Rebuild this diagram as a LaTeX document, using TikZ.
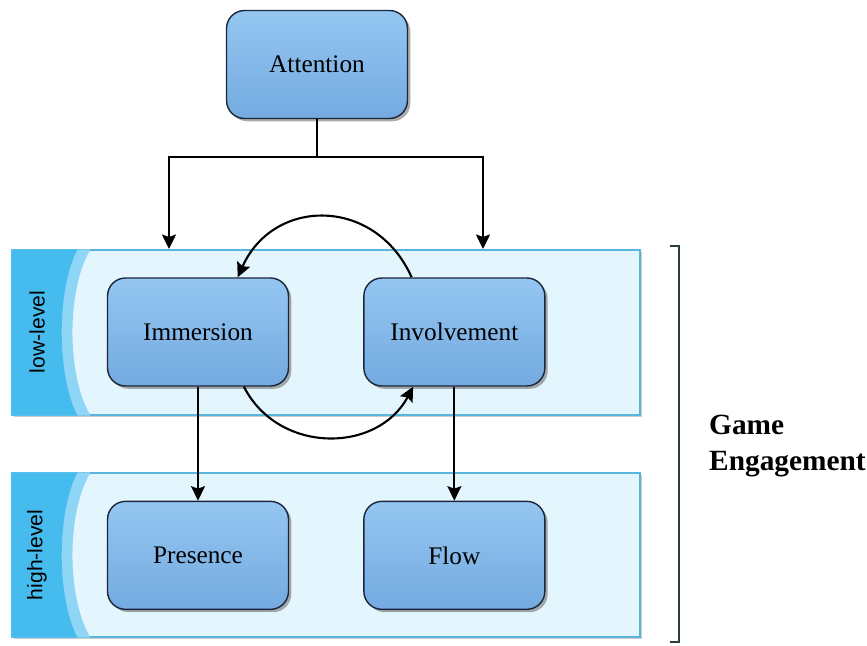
\documentclass[tikz,border=0pt]{standalone}
\usepackage{fontspec}
\setmainfont{Liberation Serif}
\setsansfont{Liberation Sans}
\usetikzlibrary{arrows.meta,positioning,shadows,calc}
\definecolor{boxtop}{RGB}{148,198,241}
\definecolor{boxbot}{RGB}{116,170,224}
\definecolor{boxline}{RGB}{28,38,58}
\definecolor{bandfill}{RGB}{228,246,253}
\definecolor{bandline}{RGB}{88,182,220}
\definecolor{stripdark}{RGB}{70,188,238}
\definecolor{striplite}{RGB}{142,213,246}
\definecolor{brkline}{RGB}{45,60,60}
\tikzset{
  box/.style ={draw=boxline,line width=0.8pt,rounded corners=0.36cm,
               minimum width=3.62cm,minimum height=2.16cm,align=center,
               top color=boxtop,bottom color=boxbot,
               font=\fontsize{14.4}{17}\selectfont,
               drop shadow={shadow xshift=1.6pt,shadow yshift=-1.6pt,
                            fill=black!55,opacity=.6}},
  band/.style={draw=bandline,line width=0.7pt,fill=bandfill,
               minimum width=12.56cm,inner sep=0pt,
               drop shadow={shadow xshift=1pt,shadow yshift=-1.2pt,
                            fill=black!40,opacity=.5}},
  lvl/.style ={rotate=90,font=\sffamily\fontsize{12}{14}\selectfont},
  ar/.style  ={-{Stealth[length=2.9mm,width=2.8mm,inset=0.5mm]},line width=1.2pt},
  ln/.style  ={line width=1.2pt},
}

\begin{document}
\begin{tikzpicture}[x=0.02cm,y=0.02cm]
\useasboundingbox (0,0) rectangle (867,646);

% ---- bands -------------------------------------------------------------
\node[band,minimum height=3.3cm] (low) at (326,313.5) {};
\node[band,minimum height=3.28cm] (high) at (326,91) {};
\foreach \b in {low,high}{
  \fill[striplite] (\b.north west) -- ++(79,0)
    .. controls +(-24,-40) and +(-24,40) .. ($(\b.south west)+(79,0)$)
    -- (\b.south west) -- cycle;
  \fill[stripdark] (\b.north west) -- ++(66,0)
    .. controls +(-21,-40) and +(-21,40) .. ($(\b.south west)+(66,0)$)
    -- (\b.south west) -- cycle;
}
\node[lvl] (lowlab) at (37,314) {low-level};
\node[lvl] (highlab) at (37,91) {high-level};

% ---- boxes -------------------------------------------------------------
\node[box] (att) at (317,581.5) {Attention};
\node[box] (imm) at (198,314) {Immersion};
\node[box,right=1.48cm of imm] (inv) {Involvement};
\node[box,below=2.28cm of imm] (pres) {Presence};
\node[box,right=1.48cm of pres] (flow) {Flow};

% ---- game engagement bracket ---------------------------------------------
\draw[brkline,line width=0.9pt] (670,400) -- (679,400) -- (679,4) -- (670,4);
\node[anchor=west,align=left,font=\bfseries\fontsize{16.7}{20}\selectfont]
  (ge) at (703,200) {Game\\Engagement};

% ---- edges -------------------------------------------------------------
\coordinate (split) at ($(att.south)+(0,-38)$);
\coordinate (inL) at (169,397);
\coordinate (inR) at (483,397);
\draw[ln] (att.south) -- (split);
\draw[ar] (split) -| (inL);
\draw[ar] (split) -| (inR);
\draw[ar] (imm) -- (pres);
\draw[ar] (inv) -- (flow);
\draw[ar] (inv.128) to[out=114,in=66,looseness=1.3] (imm.54);
\draw[ar] (imm.-50) to[out=-63,in=-118,looseness=1.15] (inv.-127);
\end{tikzpicture}
\end{document}
